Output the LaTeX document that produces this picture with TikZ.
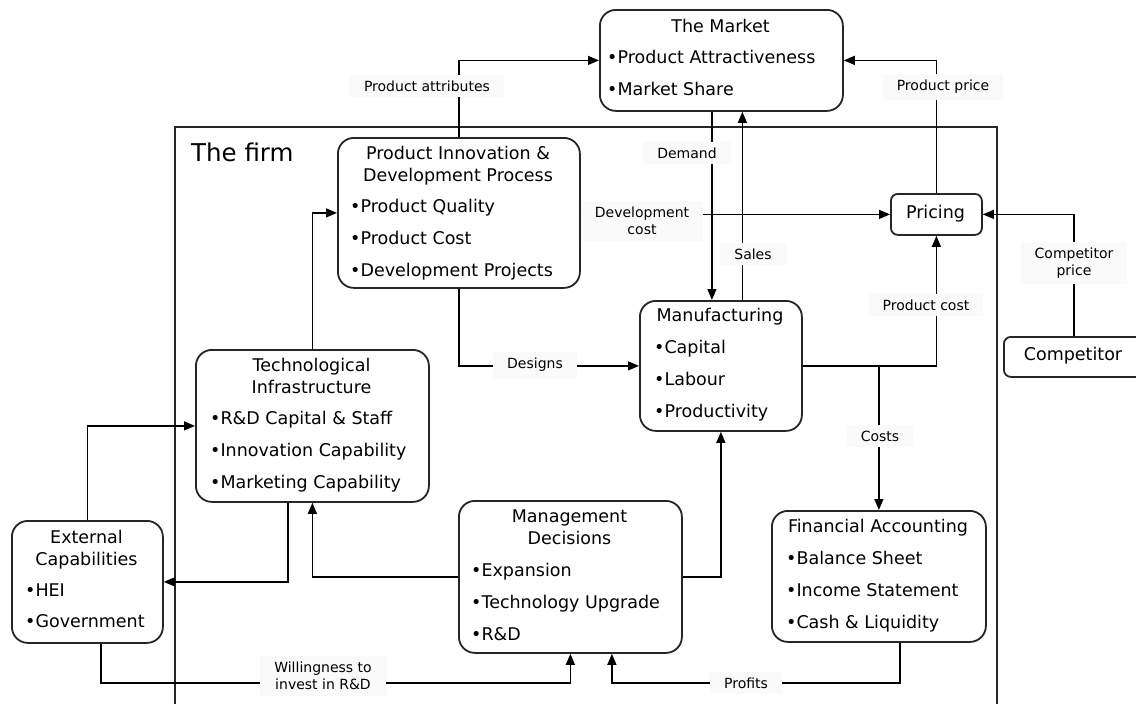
\documentclass[tikz,border=0pt]{standalone}
\usepackage{fontspec}
\setmainfont{DejaVu Sans}
\usetikzlibrary{arrows.meta}

\tikzset{
  box/.style={draw=black!85, line width=1.8pt, rounded corners=16pt,
    anchor=north west, inner sep=0pt},
  smallbox/.style={box, rounded corners=7pt},
  boxtext/.style={inner sep=0pt, font=\fontsize{17.5}{20}\selectfont,
    text height=13pt, text depth=4pt},
  title/.style={boxtext, anchor=center},
  item/.style={boxtext, anchor=west},
  flow/.style={line width=1.3pt, draw=black},
  arr/.style={flow, -{Triangle[length=11pt,width=9pt]}},
  lbl/.style={fill=black!2, inner xsep=14pt, inner ysep=6pt, align=center,
    font=\fontsize{14}{17}\selectfont},
  firmline/.style={line width=1.3pt, draw=black!85}
}

\begin{document}
\begin{tikzpicture}[x=1pt, y=-1pt]
\useasboundingbox (0,0) rectangle (1136,704);

% the firm boundary (open at the bottom)
\draw[firmline] (175,704) -- (175,127) -- (997,127) -- (997,704);
\node[anchor=west, inner sep=0pt, font=\fontsize{24.5}{28}\selectfont] (firm) at (191,152) {The firm};

% ---- boxes ----
\node[box, minimum width=243pt, minimum height=101pt] (market) at (599,9) {};
\node[title] (marketT) at (720.5,28) {The Market};
\node[item] (market1) at (607,59) {•Product Attractiveness};
\node[item] (market2) at (607,91) {•Market Share};

\node[box, minimum width=242pt, minimum height=150pt] (pi) at (337,137) {};
\node[title] (piT1) at (458,155) {Product Innovation \&};
\node[title] (piT2) at (458,177) {Development Process};
\node[item] (pi1) at (350,208) {•Product Quality};
\node[item] (pi2) at (350,240) {•Product Cost};
\node[item] (pi3) at (350,272) {•Development Projects};

\node[smallbox, minimum width=91pt, minimum height=41pt] (pricing) at (890,193) {};
\node[title] (pricingT) at (935.5,213.5) {Pricing};

\node[smallbox, minimum width=140pt, minimum height=40pt] (comp) at (1003,336) {};
\node[title] (compT) at (1073,356) {Competitor};

\node[box, minimum width=233pt, minimum height=152pt] (ti) at (195,349) {};
\node[title] (tiT1) at (311.5,367) {Technological};
\node[title] (tiT2) at (311.5,389) {Infrastructure};
\node[item] (ti1) at (210,420) {•R\&D Capital \& Staff};
\node[item] (ti2) at (210,452) {•Innovation Capability};
\node[item] (ti3) at (210,484) {•Marketing Capability};

\node[box, minimum width=151pt, minimum height=122pt] (ext) at (11,520) {};
\node[title] (extT1) at (86.5,539) {External};
\node[title] (extT2) at (86.5,561) {Capabilities};
\node[item] (ext1) at (25,592) {•HEI};
\node[item] (ext2) at (25,623) {•Government};

\node[box, minimum width=162pt, minimum height=130pt] (mfg) at (639,300) {};
\node[title] (mfgT) at (720,317) {Manufacturing};
\node[item] (mfg1) at (654,349) {•Capital};
\node[item] (mfg2) at (654,381) {•Labour};
\node[item] (mfg3) at (654,413) {•Productivity};

\node[box, minimum width=223pt, minimum height=152pt] (mgmt) at (458,500) {};
\node[title] (mgmtT1) at (569.5,518) {Management};
\node[title] (mgmtT2) at (569.5,540) {Decisions};
\node[item] (mgmt1) at (471,572) {•Expansion};
\node[item] (mgmt2) at (471,604) {•Technology Upgrade};
\node[item] (mgmt3) at (471,636) {•R\&D};

\node[box, minimum width=214pt, minimum height=131pt] (fin) at (771,510) {};
\node[title] (finT) at (878,528) {Financial Accounting};
\node[item] (fin1) at (786,560) {•Balance Sheet};
\node[item] (fin2) at (786,592) {•Income Statement};
\node[item] (fin3) at (786,624) {•Cash \& Liquidity};

% ---- helper points for the bottom return lines ----
\coordinate (busy) at (0,683);
\coordinate (extOut) at ([xshift=13.5pt]ext.south);
\coordinate (finOut) at ([xshift=21pt]fin.south);
\coordinate (mgmtIn) at ([xshift=41.5pt]mgmt.south);
\coordinate (tiOut) at ([xshift=-24.5pt]ti.south);
\coordinate (demandA) at ([xshift=-9.5pt]market.south);
\coordinate (salesA) at ([xshift=21.5pt]mfg.north);

% ---- connectors ----
\draw[arr] (pi.north) |- (market.west);
\draw[arr] (pricing.north) |- (market.east);
\draw[arr] (demandA) -- (demandA |- mfg.north);
\draw[arr] (salesA) -- (salesA |- market.south);
\draw[arr] (pi.east |- pricing.west) -- (pricing.west);
\draw[arr] (comp.north) |- (pricing.east);
\draw[arr] (mfg.east) -| (pricing.south);
\draw[arr] (mfg.east -| fin.north) -- (fin.north);
\draw[arr] (pi.south) |- (mfg.west);
\draw[arr] (ti.north) |- (pi.west);
\draw[arr] (tiOut) |- (ext.east);
\draw[arr] (ext.north) |- (ti.west);
\draw[arr] (mgmt.west) -| (ti.south);
\draw[arr] (mgmt.east) -| (mfg.south);
\draw[arr] (extOut) |- (busy -| mgmt.south) -- (mgmt.south);
\draw[arr] (finOut) |- (busy -| mgmtIn) -- (mgmtIn);

% ---- connector labels ----
\node[lbl] (lAttr) at (427,86) {Product attributes};
\node[lbl] (lPrice) at (943,87) {Product price};
\node[lbl] (lDemand) at (687,153) {Demand};
\node[lbl] (lSales) at (753,254) {Sales};
\node[lbl] (lDev) at (642,221) {Development\\cost};
\node[lbl] (lComp) at (1074,263) {Competitor\\price};
\node[lbl] (lPcost) at (926,305) {Product cost};
\node[lbl] (lDesigns) at (535,365) {Designs};
\node[lbl] (lCosts) at (880,436) {Costs};
\node[lbl] (lWill) at (323,676) {Willingness to\\invest in R\&D};
\node[lbl] (lProfits) at (746,683) {Profits};
\end{tikzpicture}
\end{document}
